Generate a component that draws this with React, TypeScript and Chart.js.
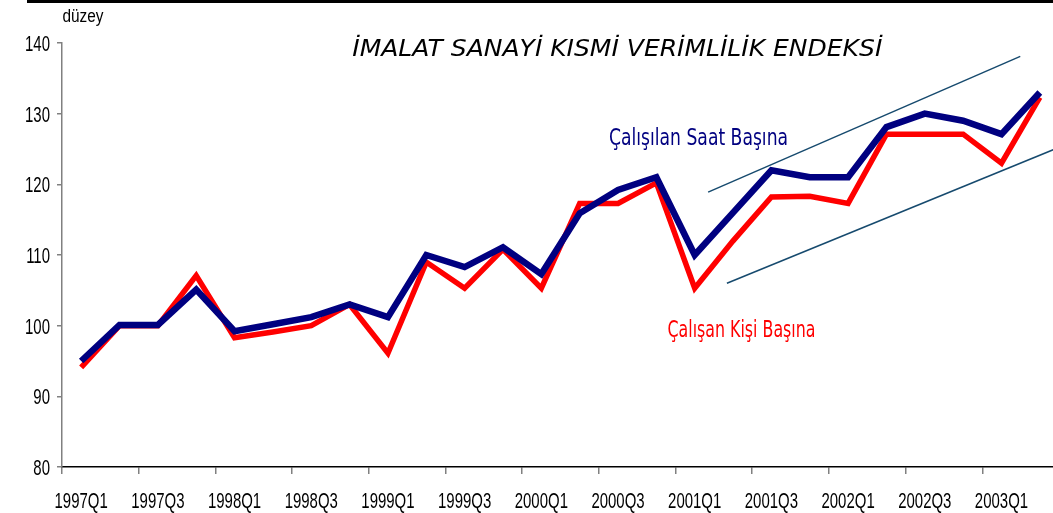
import React, { useEffect, useRef } from "react";
import { Chart, registerables } from "chart.js";

Chart.register(...registerables);

const categories = [
  "1997Q1", "1997Q2", "1997Q3", "1997Q4",
  "1998Q1", "1998Q2", "1998Q3", "1998Q4",
  "1999Q1", "1999Q2", "1999Q3", "1999Q4",
  "2000Q1", "2000Q2", "2000Q3", "2000Q4",
  "2001Q1", "2001Q2", "2001Q3", "2001Q4",
  "2002Q1", "2002Q2", "2002Q3", "2002Q4",
  "2003Q1", "2003Q2",
];

const saatBasina = [95, 100.1, 100.1, 105.1, 99.2, 100.2, 101.2, 103, 101.2, 110, 108.3, 111.1, 107.3, 115.9, 119.2, 121, 110, 116, 122, 121, 121, 128.1, 130, 129, 127.1, 133];
const kisiBasina = [94.1, 100, 100, 107.1, 98.3, 99.1, 100, 103, 96.1, 109, 105.3, 110.8, 105.3, 117.3, 117.3, 120.2, 105.3, 112, 118.2, 118.3, 117.3, 127.1, 127.1, 127.1, 123, 132.3];

// trend channel lines (category index, value)
const upperTrend = [{ x: 16.35, y: 118.9 }, { x: 24.49, y: 138.1 }];
const lowerTrend = [{ x: 16.84, y: 106.0 }, { x: 25.8, y: 125.9 }];

const yTicks = [80, 90, 100, 110, 120, 130, 140];

const TITLE = "İMALAT SANAYİ KISMİ VERİMLİLİK ENDEKSİ";
const Y_TITLE = "düzey";
const LABEL_SAAT = "Çalışılan Saat Başına";
const LABEL_KISI = "Çalışan Kişi Başına";

const SANS = '"Liberation Sans", Arial, sans-serif';
const DEJAVU = '"DejaVu Sans", Verdana, sans-serif';

function drawScaled(ctx: any, text: string, x: number, y: number, font: string, sx: number, align: string) {
  ctx.save();
  ctx.font = font;
  ctx.textAlign = align;
  ctx.textBaseline = "alphabetic";
  ctx.translate(x, y);
  ctx.scale(sx, 1);
  ctx.fillText(text, 0, 0);
  ctx.restore();
}

function drawFit(ctx: any, text: string, cx: number, y: number, font: string, width: number) {
  ctx.save();
  ctx.font = font;
  const w = ctx.measureText(text).width;
  ctx.restore();
  drawScaled(ctx, text, cx, y, font, width / w, "center");
}

const textPlugin = {
  id: "texts",
  afterDraw(chart: any) {
    const { ctx } = chart;
    const xs = chart.scales.x;
    const xl = chart.scales.xl;
    const y = chart.scales.y;
    ctx.save();
    // tick labels (narrow)
    ctx.fillStyle = "#000000";
    const tickFont = "22px " + SANS;
    categories.forEach((c, i) => {
      if (i % 2 === 0) drawScaled(ctx, c, xs.getPixelForValue(i), xs.bottom - 5, tickFont, 0.68, "center");
    });
    yTicks.forEach((v) => {
      drawScaled(ctx, String(v), y.left + 50, y.getPixelForValue(v) + 8, tickFont, 0.68, "right");
    });
    // y title
    drawFit(ctx, Y_TITLE, y.right + 21, 22, "18px " + SANS, 41);
    // title
    drawFit(ctx, TITLE, xl.getPixelForValue(13.98), y.getPixelForValue(138.1), "italic 23px " + DEJAVU, 530);
    // annotations
    ctx.fillStyle = "#000080";
    drawFit(ctx, LABEL_SAAT, xl.getPixelForValue(16.1), y.getPixelForValue(125.6), "23px " + DEJAVU, 179);
    ctx.fillStyle = "#FF0000";
    drawFit(ctx, LABEL_KISI, xl.getPixelForValue(17.22), y.getPixelForValue(98.4), "23px " + DEJAVU, 148);
    ctx.restore();
  },
};

export default function App() {
  const ref = useRef<HTMLCanvasElement | null>(null);
  useEffect(() => {
    if (!ref.current) return;
    const chart = new Chart(ref.current, {
      type: "line",
      data: {
        labels: categories,
        datasets: [
          {
            label: LABEL_SAAT,
            data: saatBasina,
            borderColor: "#000080",
            borderWidth: 6.5,
            pointRadius: 0,
            tension: 0,
            borderJoinStyle: "miter",
            order: 0,
          },
          {
            label: LABEL_KISI,
            data: kisiBasina,
            borderColor: "#FF0000",
            borderWidth: 5.5,
            pointRadius: 0,
            tension: 0,
            borderJoinStyle: "miter",
            order: 1,
          },
          {
            label: "upper",
            data: upperTrend as any,
            xAxisID: "xl",
            borderColor: "#164a6e",
            borderWidth: 1.5,
            pointRadius: 0,
            order: 2,
          },
          {
            label: "lower",
            data: lowerTrend as any,
            xAxisID: "xl",
            borderColor: "#164a6e",
            borderWidth: 1.5,
            pointRadius: 0,
            order: 2,
          },
        ],
      },
      options: {
        animation: false,
        responsive: false,
        devicePixelRatio: 1,
        layout: { padding: { top: 43, right: 11, left: 0, bottom: 0 } },
        plugins: {
          legend: { display: false },
          tooltip: { enabled: false },
          title: { display: false },
        },
        scales: {
          x: {
            type: "category",
            offset: true,
            grid: {
              offset: true,
              drawOnChartArea: false,
              tickLength: 7,
              color: (c: any) => (c.index % 2 === 0 ? "#808080" : "rgba(0,0,0,0)"),
              lineWidth: 1.5,
            },
            border: { color: "#000000", width: 1.5 },
            ticks: {
              autoSkip: false,
              maxRotation: 0,
              color: "rgba(0,0,0,0)",
              font: { family: SANS, size: 12 },
              callback: (_v: any, i: number) => (i % 2 === 0 ? categories[i] : ""),
            },
            afterFit: (s: any) => {
              s.height = 46;
            },
          },
          xl: {
            type: "linear",
            display: false,
            min: -0.5,
            max: categories.length - 0.5,
          },
          y: {
            min: 80,
            max: 140,
            afterBuildTicks: (s: any) => {
              s.ticks = yTicks.map((v) => ({ value: v }));
            },
            grid: {
              drawOnChartArea: false,
              tickLength: 5,
              color: "#808080",
              lineWidth: 1.5,
            },
            border: { color: "#808080", width: 1.5 },
            ticks: {
              color: "rgba(0,0,0,0)",
              font: { family: SANS, size: 12 },
            },
            afterFit: (s: any) => {
              s.width = 62;
            },
          },
        },
      },
      plugins: [textPlugin],
    });
    return () => chart.destroy();
  }, []);
  return (
    <div
      style={{
        position: "fixed",
        left: 0,
        top: 0,
        width: 1053,
        height: 513,
        overflow: "hidden",
        background: "#ffffff",
      }}
    >
      <div
        style={{
          position: "absolute",
          left: 27,
          top: 0,
          width: 1026,
          height: 3,
          background: "#000000",
        }}
      />
      <canvas ref={ref} width={1070} height={513} style={{ width: 1070, height: 513, display: "block" }} />
    </div>
  );
}
